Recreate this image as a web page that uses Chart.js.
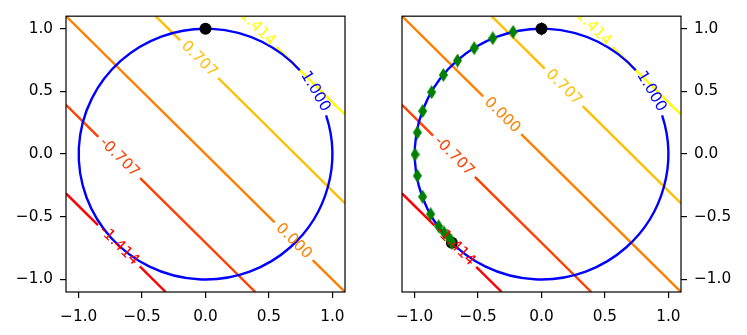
<!DOCTYPE html>
<html lang="en">
<head>
  <meta charset="UTF-8">
  <title>Contours of x + y on the unit circle</title>
  <script src="https://cdn.jsdelivr.net/npm/chart.js"></script>
  <style>
    body { margin: 0; background: #fff; }
    #wrap { position: relative; width: 747px; height: 335px; }
    canvas { position: absolute; top: 0; }
  </style>
</head>
<body>
  <div id="wrap">
    <canvas id="leftChart" width="373" height="335" style="left:0"></canvas>
    <canvas id="rightChart" width="374" height="335" style="left:373px"></canvas>
  </div>

  <script>
    // axes (same for both panels)
    var tickValues = [-1.0, -0.5, 0.0, 0.5, 1.0];
    var axisMin = -1.1;
    var axisMax = 1.1;

    // contour levels of f(x, y) = x + y
    var levelText = ['-1.414', '-0.707', '0.000', '0.707', '1.414'];

    // contour lines as [x, y] points, null = break under the inline label
    var leftLines = [
      [[-1.1, -0.314], [-0.848, -0.566], null, [-0.518, -0.896], [-0.314, -1.1]],
      [[-1.1, 0.393], [-0.845, 0.138], null, [-0.515, -0.192], [0.393, -1.1]],
      [[-1.1, 1.1], [0.545, -0.545], null, [0.845, -0.845], [1.1, -1.1]],
      [[-0.393, 1.1], [-0.2, 0.907], null, [0.1, 0.607], [1.1, -0.393]],
      [[0.56, 0.854], [1.1, 0.314]]
    ];
    var rightLines = [
      [[-1.1, -0.314], [-0.845, -0.569], null, [-0.515, -0.899], [-0.314, -1.1]],
      [[-1.1, 0.393], [-0.855, 0.148], null, [-0.525, -0.182], [0.393, -1.1]],
      [[-1.1, 1.1], [-0.46, 0.46], null, [-0.16, 0.16], [1.1, -1.1]],
      [[-0.393, 1.1], [0.025, 0.682], null, [0.325, 0.382], [1.1, -0.393]],
      [[0.56, 0.854], [1.1, 0.314]]
    ];

    // where the level labels sit (data coords)
    var leftLabelX = [-0.683, -0.68, 0.695, -0.05, 0.41];
    var leftLabelY = [-0.731, -0.027, -0.695, 0.757, 1.004];
    var rightLabelX = [-0.68, -0.69, -0.31, 0.175, 0.41];
    var rightLabelY = [-0.734, -0.017, 0.31, 0.532, 1.004];

    // constraint: unit circle (its own contour, labelled 1.000)
    var circleRadius = 1.0;
    var circleText = '1.000';
    var circleLabelDeg = 30;
    var circleGapDeg = [18, 42];

    // iterates walking along the circle (right panel)
    var pathX = [0.0, -0.224, -0.384, -0.531, -0.662, -0.774, -0.866, -0.937, -0.979,
                 -0.997, -0.979, -0.937, -0.874, -0.811, -0.769, -0.730, -0.715, -0.707];
    var pathY = [1.0, 0.975, 0.924, 0.845, 0.746, 0.631, 0.494, 0.343, 0.172,
                 -0.003, -0.173, -0.340, -0.479, -0.576, -0.625, -0.665, -0.690, -0.707];

    var startPoint = [0.0, 1.0];
    var endPoint = [-0.707, -0.707];

    var levelColors = ['#ff0000', '#ff4000', '#ff8000', '#ffbf00', '#ffff00'];
    var FONT = '"DejaVu Sans", "Liberation Sans", sans-serif';
    var FONT_SIZE = 15.3;
    var LINE_W = 2.4;

    // thin diamond marker like matplotlib's 'd'
    function thinDiamond() {
      var c = document.createElement('canvas');
      c.width = 9; c.height = 14;
      var g = c.getContext('2d');
      g.fillStyle = '#008000';
      g.beginPath();
      g.moveTo(4.5, 0); g.lineTo(9, 7); g.lineTo(4.5, 14); g.lineTo(0, 7);
      g.closePath();
      g.fill();
      return c;
    }

    function toPoints(line) {
      return line.map(function (p) {
        return p ? { x: p[0], y: p[1] } : { x: null, y: null };
      });
    }

    function fmtTick(v) {
      return (v < 0 ? '\u2212' : '') + Math.abs(v).toFixed(1);
    }

    // circle + inline labels + axes box
    function contourPlugin(labelX, labelY) {
      var circleDone = false;

      function drawCircle(chart) {
        var ctx = chart.ctx, xs = chart.scales.x, ys = chart.scales.y;
        var cx = xs.getPixelForValue(0), cy = ys.getPixelForValue(0);
        var rx = xs.getPixelForValue(circleRadius) - cx;
        var ry = cy - ys.getPixelForValue(circleRadius);
        ctx.save();
        ctx.strokeStyle = '#0000ff';
        ctx.lineWidth = LINE_W;
        ctx.beginPath();
        ctx.ellipse(cx, cy, rx, ry, 0,
          -circleGapDeg[1] * Math.PI / 180, -circleGapDeg[0] * Math.PI / 180, true);
        ctx.stroke();
        ctx.restore();
      }

      function drawLabel(ctx, text, px, py, ang, color) {
        ctx.save();
        ctx.translate(px, py);
        ctx.rotate(ang);
        ctx.fillStyle = color;
        ctx.fillText(text, 0, 0);
        ctx.restore();
      }

      return {
        id: 'contourBits',
        beforeDatasetsDraw: function () { circleDone = false; },
        beforeDatasetDraw: function (chart, args) {
          if (!circleDone && chart.data.datasets[args.index].order < 3) {
            drawCircle(chart);
            circleDone = true;
          }
        },
        afterDatasetsDraw: function (chart) {
          if (!circleDone) { drawCircle(chart); circleDone = true; }
          var ctx = chart.ctx, a = chart.chartArea;
          var xs = chart.scales.x, ys = chart.scales.y;
          var sx = xs.getPixelForValue(1) - xs.getPixelForValue(0);
          var sy = ys.getPixelForValue(0) - ys.getPixelForValue(1);

          ctx.save();
          ctx.beginPath();
          ctx.rect(a.left, a.top, a.right - a.left, a.bottom - a.top);
          ctx.clip();
          ctx.font = FONT_SIZE + 'px ' + FONT;
          ctx.textAlign = 'center';
          ctx.textBaseline = 'middle';

          // lines x + y = c run along (1, -1)
          var lineAng = Math.atan2(sy, sx);
          levelText.forEach(function (t, i) {
            drawLabel(ctx, t, xs.getPixelForValue(labelX[i]), ys.getPixelForValue(labelY[i]),
              lineAng, levelColors[i]);
          });

          var th = circleLabelDeg * Math.PI / 180;
          var cAng = Math.atan2(Math.cos(th) * sy, Math.sin(th) * sx);
          drawLabel(ctx, circleText,
            xs.getPixelForValue(circleRadius * Math.cos(th)),
            ys.getPixelForValue(circleRadius * Math.sin(th)), cAng, '#0000ff');
          ctx.restore();

          ctx.save();
          ctx.strokeStyle = '#000';
          ctx.lineWidth = 1.2;
          ctx.strokeRect(a.left, a.top, a.right - a.left, a.bottom - a.top);
          ctx.restore();
        }
      };
    }

    function axis(pos, size) {
      var horiz = pos === 'bottom';
      return {
        type: 'linear',
        position: pos,
        min: axisMin,
        max: axisMax,
        afterBuildTicks: function (s) {
          s.ticks = tickValues.map(function (v) { return { value: v }; });
        },
        afterFit: function (s) {
          if (horiz) s.height = size; else s.width = size;
        },
        border: { display: false },
        grid: {
          display: true,
          drawOnChartArea: false,
          drawTicks: true,
          tickLength: 6,
          color: '#000',
          lineWidth: 1.2
        },
        ticks: {
          color: '#000',
          padding: horiz ? 10 : 7,
          font: { family: FONT, size: FONT_SIZE },
          maxRotation: 0,
          autoSkip: false,
          callback: fmtTick
        }
      };
    }

    function makeChart(id, lines, labelX, labelY, withPath, yPos, padding) {
      var datasets = lines.map(function (line, i) {
        return {
          label: 'level ' + levelText[i],
          data: toPoints(line),
          showLine: true,
          borderColor: levelColors[i],
          borderWidth: LINE_W,
          pointRadius: 0,
          spanGaps: false,
          order: 3
        };
      });

      var dotStyle = {
        pointStyle: 'circle',
        pointRadius: 6,
        pointBackgroundColor: '#000',
        pointBorderWidth: 0,
        showLine: false
      };

      if (withPath) {
        datasets.push(Object.assign({ label: 'end', data: [{ x: endPoint[0], y: endPoint[1] }], order: 2.5 }, dotStyle));
        datasets.push({
          label: 'iterates',
          data: pathX.map(function (v, i) { return { x: v, y: pathY[i] }; }),
          pointStyle: thinDiamond(),
          showLine: false,
          order: 2
        });
      }
      datasets.push(Object.assign({ label: 'start', data: [{ x: startPoint[0], y: startPoint[1] }], order: 1 }, dotStyle));

      return new Chart(document.getElementById(id).getContext('2d'), {
        type: 'scatter',
        data: { datasets: datasets },
        options: {
          responsive: false,
          animation: false,
          devicePixelRatio: 1,
          layout: { padding: padding },
          plugins: { legend: { display: false }, tooltip: { enabled: false } },
          scales: {
            x: axis('bottom', 43),
            y: axis(yPos, 66)
          }
        },
        plugins: [contourPlugin(labelX, labelY)]
      });
    }

    makeChart('leftChart', leftLines, leftLabelX, leftLabelY, false, 'left',
      { left: 0, top: 13, right: 28, bottom: 0 });
    makeChart('rightChart', rightLines, rightLabelX, rightLabelY, true, 'right',
      { left: 29, top: 13, right: 0, bottom: 0 });
  </script>
</body>
</html>
